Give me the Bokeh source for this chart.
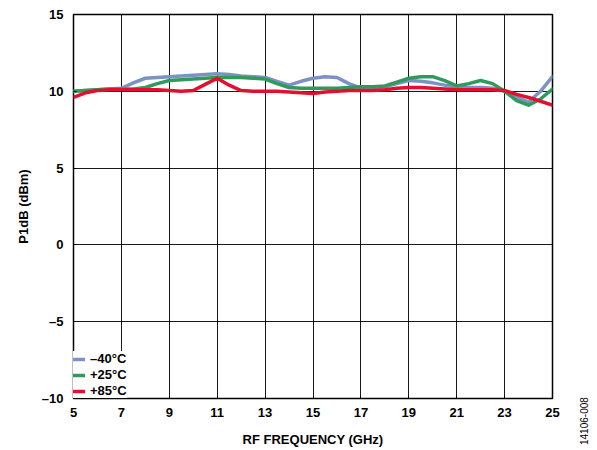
from bokeh.plotting import figure
from bokeh.layouts import row
from bokeh.models import Legend, LegendItem, FixedTicker, Div
from bokeh.embed import file_html
from bokeh.resources import INLINE

freq_ghz = [5, 5.5, 6, 6.5, 7, 7.5, 8, 8.5, 9, 9.5, 10, 10.5, 11, 11.5, 12, 12.5,
            13, 13.5, 14, 14.5, 15, 15.5, 16, 16.5, 17, 17.5, 18, 18.5, 19, 19.5,
            20, 20.5, 21, 21.5, 22, 22.5, 23, 23.5, 24, 24.5, 25]

p1db_m40 = [10.0, 10.05, 10.1, 10.15, 10.2, 10.55, 10.85, 10.9, 10.95, 11.0, 11.05,
            11.1, 11.15, 11.1, 11.0, 10.95, 10.9, 10.65, 10.4, 10.65, 10.85, 10.95,
            10.9, 10.5, 10.2, 10.25, 10.3, 10.5, 10.7, 10.65, 10.55, 10.4, 10.3,
            10.25, 10.25, 10.2, 10.0, 9.6, 9.3, 10.0, 10.95]

p1db_p25 = [10.0, 10.05, 10.1, 10.15, 10.15, 10.15, 10.25, 10.5, 10.7, 10.75, 10.8,
            10.85, 10.9, 10.9, 10.9, 10.85, 10.8, 10.5, 10.25, 10.2, 10.2, 10.2,
            10.2, 10.25, 10.3, 10.3, 10.35, 10.6, 10.85, 10.95, 10.95, 10.7, 10.35,
            10.5, 10.7, 10.5, 10.0, 9.4, 9.1, 9.5, 10.15]

p1db_p85 = [9.6, 9.9, 10.05, 10.1, 10.1, 10.1, 10.1, 10.1, 10.05, 10.0, 10.05,
            10.45, 10.85, 10.4, 10.05, 10.0, 10.0, 10.0, 9.95, 9.9, 9.85, 9.95,
            10.0, 10.05, 10.05, 10.05, 10.1, 10.2, 10.25, 10.25, 10.2, 10.15, 10.1,
            10.1, 10.1, 10.1, 10.05, 9.8, 9.6, 9.35, 9.1]

series_labels = ["\u201340°C", "+25°C", "+85°C"]
series_colors = ["#7B93C4", "#2E9B5C", "#E2102E"]

x_ticks = [5, 7, 9, 11, 13, 15, 17, 19, 21, 23, 25]
y_ticks = [-10, -5, 0, 5, 10, 15]
y_tick_labels = {-10: "\u201310", -5: "\u20135", 0: "0", 5: "5", 10: "10", 15: "15"}

FONT = "Liberation Sans"

p = figure(width=574, height=444, frame_width=479, frame_height=384,
           x_range=(5, 25), y_range=(-10, 15),
           output_backend="svg", toolbar_location=None,
           min_border_left=73, min_border_top=14, min_border_right=22,
           min_border_bottom=46)
p.background_fill_color = "white"
p.outline_line_color = "black"
p.outline_line_width = 1.5

p.xaxis.ticker = FixedTicker(ticks=x_ticks)
p.yaxis.ticker = FixedTicker(ticks=y_ticks)
p.yaxis.major_label_overrides = y_tick_labels

for ax in (p.xaxis, p.yaxis):
    ax.axis_line_color = None
    ax.major_tick_line_color = "black"
    ax.major_tick_in = 3
    ax.major_tick_out = 0
    ax.minor_tick_line_color = None
    ax.major_label_text_font = FONT
    ax.major_label_text_font_style = "bold"
    ax.major_label_text_font_size = "13px"
    ax.major_label_text_color = "black"
    ax.axis_label_text_font = FONT
    ax.axis_label_text_font_style = "bold"
    ax.axis_label_text_font_size = "13px"
    ax.axis_label_text_color = "black"

p.xaxis.axis_label = "RF FREQUENCY (GHz)"
p.yaxis.axis_label = "P1dB (dBm)"
p.xaxis.major_label_standoff = 9
p.xaxis.axis_label_standoff = 12
p.yaxis.major_label_standoff = 10
p.yaxis.axis_label_standoff = 8

p.xgrid.ticker = FixedTicker(ticks=x_ticks)
p.ygrid.ticker = FixedTicker(ticks=y_ticks)
for g in (p.xgrid, p.ygrid):
    g.grid_line_color = "black"
    g.grid_line_width = 1
    g.grid_line_alpha = 0.9

renderers = []
for ys, col in zip([p1db_m40, p1db_p25, p1db_p85], series_colors):
    r = p.line(freq_ghz, ys, line_color=col, line_width=3.5, line_join="round",
               line_cap="round")
    renderers.append(r)

legend = Legend(items=[LegendItem(label=lab, renderers=[r])
                       for lab, r in zip(series_labels, renderers)],
                location="bottom_left", margin=0, padding=7, spacing=1,
                label_height=14, glyph_height=14, glyph_width=12,
                label_standoff=5, border_line_color=None,
                background_fill_color="white", background_fill_alpha=1,
                label_text_font=FONT, label_text_font_style="bold",
                label_text_font_size="13px", label_text_color="black")
p.add_layout(legend)

fig_id = Div(text="14106-008", width=20, height=444,
             styles={"writing-mode": "vertical-rl",
                     "transform": "rotate(180deg)",
                     "font-family": FONT, "font-size": "10px",
                     "color": "black", "padding-top": "4px",
                     "padding-right": "0px", "box-sizing": "border-box",
                     "line-height": "11px", "white-space": "nowrap"})

layout = row(p, fig_id, spacing=0)

open("out.html", "w").write(file_html(layout, INLINE))
